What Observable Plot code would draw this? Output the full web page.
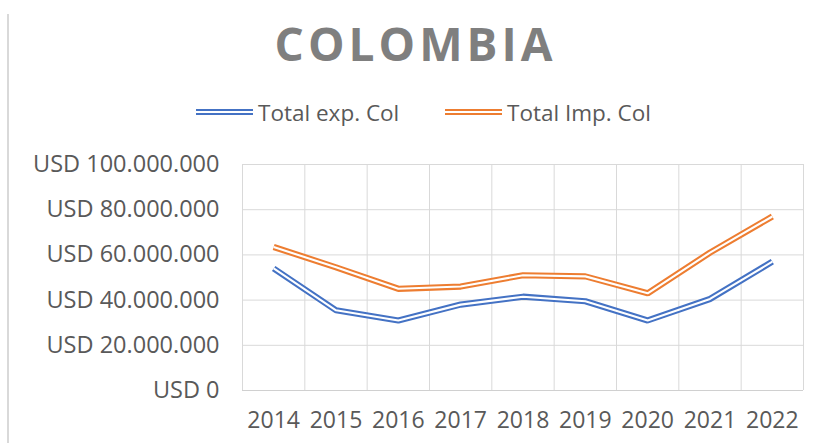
<!DOCTYPE html>
<html><head><meta charset="utf-8">
<script src="https://cdn.jsdelivr.net/npm/d3@7"></script>
<script src="https://cdn.jsdelivr.net/npm/@observablehq/plot@0.6"></script>
<style>
body{margin:0;background:#fff;font-family:"Open Sans",sans-serif}
#wrap{position:relative;width:827px;height:443px;overflow:hidden;background:#fff}
#border{position:absolute;left:7px;top:14px;width:2px;height:429px;background:#d9d9d9}
#title{position:absolute;left:2px;width:827px;top:13px;text-align:center;font-size:46px;line-height:60px;font-weight:700;color:#7f7f7f;letter-spacing:4px}
#legend{position:absolute;left:0;top:97px;height:30px;width:827px}
.item{position:absolute;top:0;height:30px;display:flex;align-items:center;font-size:22.5px;color:#595959}
.sw{width:57px;height:2px;margin-right:5px}
#chart{position:absolute;left:0;top:140px}
</style>
</head><body>
<div id="wrap">
  <div id="border"></div>
  <div id="title">COLOMBIA</div>
  <div id="legend"></div>
  <div id="chart"></div>
</div>
<script>
const years = [2014, 2015, 2016, 2017, 2018, 2019, 2020, 2021, 2022];
const seriesNames = ["Total exp. Col", "Total Imp. Col"];
const exportsCol = [54000000, 35500000, 31000000, 38000000, 41500000, 39500000, 31000000, 40500000, 57000000];
const importsCol = [63500000, 54500000, 45000000, 46000000, 51000000, 50500000, 43000000, 61000000, 77000000];
const seriesColors = ["#4472c4", "#ed7d31"];
const yTicks = [0, 20000000, 40000000, 60000000, 80000000, 100000000];

const data = [];
years.forEach((y, i) => {
  data.push({year: y, value: exportsCol[i], series: seriesNames[0]});
  data.push({year: y, value: importsCol[i], series: seriesNames[1]});
});

const loc = d3.formatLocale({decimal: ",", thousands: ".", grouping: [3], currency: ["", ""]});
const fmt = v => "USD " + loc.format(",")(v);

// legend
const legend = document.getElementById("legend");
const legendX = [196, 445];
seriesNames.forEach((n, i) => {
  const it = document.createElement("div");
  it.className = "item";
  it.style.left = legendX[i] + "px";
  const sw = document.createElement("div");
  sw.className = "sw";
  sw.style.borderTop = "2px solid " + seriesColors[i];
  sw.style.borderBottom = "2px solid " + seriesColors[i];
  it.appendChild(sw);
  const t = document.createElement("span");
  t.textContent = n;
  it.appendChild(t);
  legend.appendChild(it);
});

const bandEdges = d3.range(years[0] - 0.5, years[years.length - 1] + 1, 1);

const chart = Plot.plot({
  width: 827,
  height: 303,
  marginTop: 24,
  marginBottom: 53,
  marginLeft: 242,
  marginRight: 24,
  style: {fontFamily: "'Open Sans', sans-serif", background: "transparent"},
  x: {domain: [years[0] - 0.5, years[years.length - 1] + 0.5]},
  y: {domain: [0, 100000000]},
  color: {domain: seriesNames, range: seriesColors},
  marks: [
    Plot.gridY(yTicks, {stroke: "#d9d9d9", strokeOpacity: 1, strokeWidth: 1}),
    Plot.gridX(bandEdges, {stroke: "#d9d9d9", strokeOpacity: 1, strokeWidth: 1}),
    Plot.ruleY([0], {stroke: "#d0d0d0", strokeWidth: 1}),
    Plot.axisY(yTicks, {tickFormat: fmt, tickSize: 0, tickPadding: 23, fontSize: 23.5, fill: "#595959", label: null}),
    Plot.axisX(years, {tickFormat: d => String(d), tickSize: 0, tickPadding: 21, fontSize: 23, fill: "#595959", label: null}),
    Plot.line(data, {x: "year", y: "value", z: "series", stroke: "series", strokeWidth: 6.2, strokeLinejoin: "miter", strokeLinecap: "butt"}),
    Plot.line(data, {x: "year", y: "value", z: "series", stroke: "#ffffff", strokeWidth: 2.1, strokeLinejoin: "miter", strokeLinecap: "butt"})
  ]
});
document.getElementById("chart").appendChild(chart);
</script>
</body></html>
